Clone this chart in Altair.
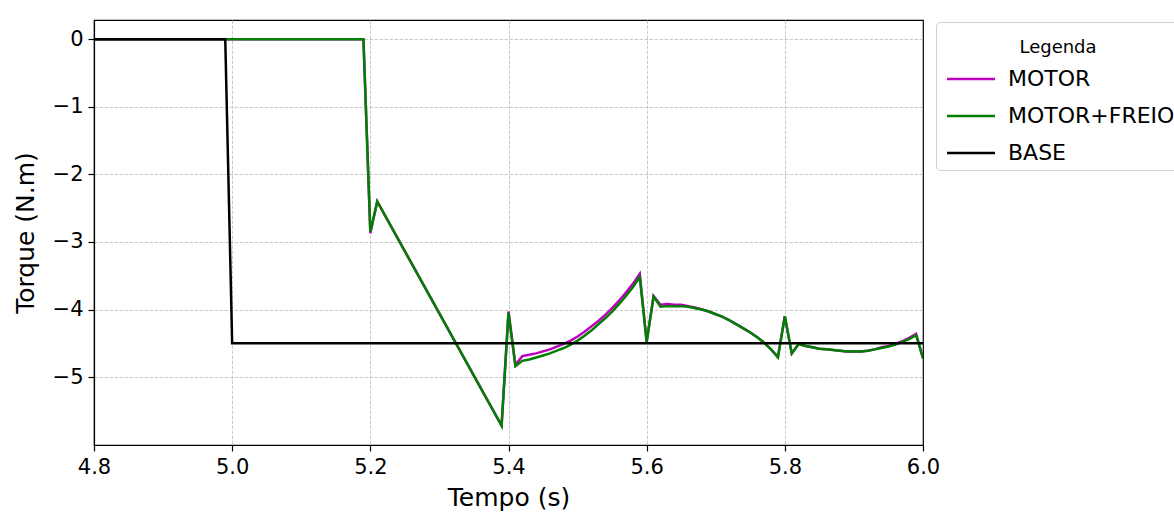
import altair as alt
import pandas as pd

# Torque responses (N.m) over time (s)
t_motor = [4.80, 5.19, 5.20, 5.21, 5.39, 5.40, 5.41,
           5.42, 5.43, 5.44, 5.45, 5.46, 5.47, 5.48, 5.49, 5.50,
           5.51, 5.52, 5.53, 5.54, 5.55, 5.56, 5.57, 5.58, 5.59,
           5.60, 5.61,
           5.62, 5.63, 5.64, 5.65, 5.66, 5.67, 5.68, 5.69, 5.70,
           5.71, 5.72, 5.73, 5.74, 5.75, 5.76, 5.77, 5.78, 5.79,
           5.80, 5.81,
           5.82, 5.83, 5.84, 5.85, 5.86, 5.87, 5.88, 5.89, 5.90,
           5.91, 5.92, 5.93, 5.94, 5.95, 5.96, 5.97, 5.98, 5.99,
           6.00]
torque_motor = [0.0, 0.0, -2.87, -2.40, -5.72, -4.03, -4.82,
                -4.69, -4.67, -4.65, -4.62, -4.59, -4.55, -4.51, -4.46, -4.40,
                -4.33, -4.25, -4.17, -4.08, -3.98, -3.87, -3.75, -3.62, -3.47,
                -4.48, -3.80,
                -3.93, -3.92, -3.93, -3.93, -3.95, -3.97, -4.00, -4.03, -4.07,
                -4.11, -4.16, -4.22, -4.28, -4.34, -4.41, -4.49, -4.59, -4.70,
                -4.10, -4.65,
                -4.51, -4.54, -4.56, -4.58, -4.59, -4.60, -4.61, -4.62, -4.62,
                -4.62, -4.61, -4.59, -4.56, -4.54, -4.51, -4.47, -4.42, -4.36,
                -4.72]
torque_motor_freio = [0.0, 0.0, -2.85, -2.40, -5.72, -4.05, -4.84,
                      -4.76, -4.74, -4.71, -4.68, -4.65, -4.61, -4.57, -4.52, -4.46,
                      -4.39, -4.31, -4.22, -4.13, -4.03, -3.92, -3.80, -3.67, -3.52,
                      -4.48, -3.81,
                      -3.96, -3.95, -3.95, -3.95, -3.96, -3.98, -4.00, -4.03, -4.07,
                      -4.11, -4.16, -4.22, -4.28, -4.34, -4.41, -4.49, -4.59, -4.71,
                      -4.10, -4.65,
                      -4.51, -4.54, -4.56, -4.58, -4.59, -4.60, -4.61, -4.62, -4.62,
                      -4.62, -4.61, -4.59, -4.57, -4.55, -4.52, -4.48, -4.44, -4.38,
                      -4.72]
t_base = [4.80, 4.99, 5.00, 6.00]
torque_base = [0.0, 0.0, -4.50, -4.50]

series_names = ["MOTOR", "MOTOR+FREIO", "BASE"]
series_colors = ["#bf00bf", "#008000", "#000000"]
x_ticks = [4.8, 5.0, 5.2, 5.4, 5.6, 5.8, 6.0]
y_ticks = [0, -1, -2, -3, -4, -5]

frames = [
    pd.DataFrame({"t": t_motor, "torque": torque_motor, "serie": "MOTOR"}),
    pd.DataFrame({"t": t_motor, "torque": torque_motor_freio, "serie": "MOTOR+FREIO"}),
    pd.DataFrame({"t": t_base, "torque": torque_base, "serie": "BASE"}),
]
df = pd.concat(frames, ignore_index=True)

# no grid line on top of the frame at the first/last x tick
edge_grid = {"condition": {"test": "datum.value < 4.81 || datum.value > 5.99", "value": 0},
             "value": 1}

x_enc = alt.X("t:Q", title="Tempo (s)",
              scale=alt.Scale(domain=[4.8, 6.0], nice=False, zero=False),
              axis=alt.Axis(values=x_ticks, format=".1f", labelFlush=False,
                            gridOpacity=edge_grid))
y_enc = alt.Y("torque:Q", title="Torque (N.m)",
              scale=alt.Scale(domain=[-6.006, 0.286], nice=False, zero=False),
              axis=alt.Axis(values=y_ticks, format="d"))
color_enc = alt.Color("serie:N", title=["", "Legenda"],
                      scale=alt.Scale(domain=series_names, range=series_colors),
                      legend=alt.Legend(orient="none", legendX=842, legendY=2,
                                        symbolType="M-1,0H7", symbolSize=144,
                                        symbolStrokeWidth=2.5, labelFontSize=22,
                                        labelOffset=44, labelLimit=400, rowPadding=15,
                                        titleFontSize=18, titleFontWeight="normal",
                                        titleLineHeight=11, titleLimit=400,
                                        titleAnchor="middle", titlePadding=11,
                                        padding=6, strokeColor="#d0d0d0",
                                        fillColor="white", cornerRadius=4,
                                        labelColor="#000000", titleColor="#000000"))

layers = [
    alt.Chart(df).transform_filter(alt.datum.serie == name)
    .mark_line(strokeWidth=2.5, clip=True)
    .encode(x=x_enc, y=y_enc, color=color_enc)
    for name in series_names
]

chart = (
    alt.layer(*layers)
    .properties(width=829, height=425,
                autosize=alt.AutoSizeParams(type="none"),
                padding={"left": 94, "top": 20, "right": 251, "bottom": 71})
    .configure(font="DejaVu Sans")
    .configure_view(stroke="#000000", strokeWidth=1.2)
    .configure_axis(domainColor="#000000", domainWidth=1.2, tickColor="#000000",
                    tickSize=6, tickWidth=1.2, labelFontSize=21, titleFontSize=25,
                    labelColor="#000000", titleColor="#000000",
                    titleFontWeight="normal", labelPadding=5,
                    gridColor="#c4c4c4", gridDash=[3.5, 1.5], gridWidth=0.9)
    .configure_axisX(titlePadding=8)
    .configure_axisY(titlePadding=14)
)

chart.save("out.html", embed_options={"renderer": "svg", "actions": False})
